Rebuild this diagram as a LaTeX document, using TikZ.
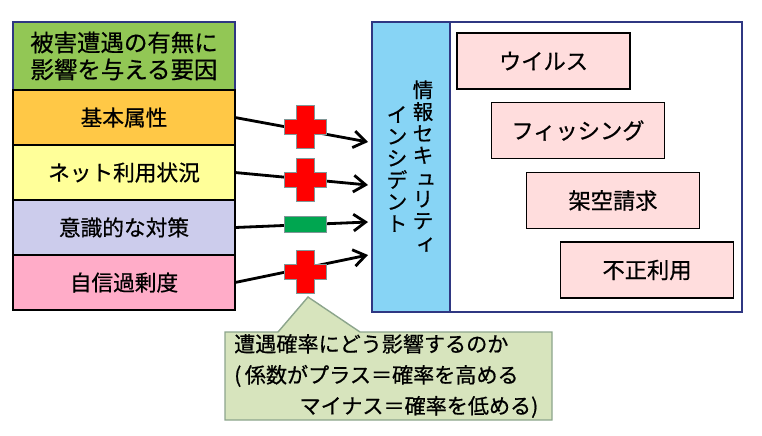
\documentclass[tikz,border=0pt]{standalone}
\usepackage{fontspec}
\setmainfont[FakeBold=0.6]{Noto Sans CJK JP}
\usetikzlibrary{arrows.meta, positioning}
\definecolor{headgreen}{RGB}{146,199,85}
\definecolor{attrorange}{RGB}{255,200,70}
\definecolor{netyellow}{RGB}{255,255,153}
\definecolor{carepurple}{RGB}{204,204,236}
\definecolor{selfpink}{RGB}{255,172,200}
\definecolor{incblue}{RGB}{135,212,245}
\definecolor{navy}{RGB}{47,55,130}
\definecolor{typepink}{RGB}{255,221,221}
\definecolor{notegreen}{RGB}{215,228,189}
\definecolor{noteedge}{RGB}{140,165,140}
\definecolor{markedge}{RGB}{128,150,150}
\definecolor{minusgreen}{RGB}{0,166,80}

\begin{document}
\begin{tikzpicture}[
    x=0.03cm, y=-0.03cm,
    factor/.style  ={draw=black, line width=1.4pt, outer sep=0pt,
                     minimum width=6.66cm, minimum height=1.65cm,
                     font=\fontsize{18.5pt}{22pt}\selectfont},
    header/.style  ={factor, draw=navy, fill=headgreen, minimum height=2.04cm,
                     align=center, font=\fontsize{20pt}{23pt}\selectfont},
    panel/.style   ={draw=navy, line width=1.4pt, outer sep=0pt,
                     minimum height=8.7cm},
    vcol/.style    ={align=center, inner sep=0pt,
                     font=\fontsize{17.5pt}{18.6pt}\selectfont},
    typebox/.style ={draw=black, line width=1.2pt, fill=typepink,
                     minimum width=5.19cm, minimum height=1.68cm,
                     font=\fontsize{19pt}{22pt}\selectfont},
    effect/.style  ={-{Straight Barb[length=3.6mm, width=5mm]}, line width=2.4pt},
    plusmark/.style={fill=red, draw=markedge, line width=0.8pt},
    notebox/.style ={fill=notegreen, draw=noteedge, line width=1.2pt},
    plus/.pic      ={\path[plusmark] (-21,-7.5) -- (-9,-7.5) -- (-9,-21.5) -- (9,-21.5)
                       -- (9,-7.5) -- (21,-7.5) -- (21,7.5) -- (9,7.5) -- (9,21.5)
                       -- (-9,21.5) -- (-9,7.5) -- (-21,7.5) -- cycle;},
    minus/.pic     ={\path[plusmark, fill=minusgreen] (-21,-8) rectangle (21,8);},
  ]
  \useasboundingbox (0,0) rectangle (762,435);

  % ---- factors (left column) ----
  \node[header] (head) at (124,56) {被害遭遇の有無に\\影響を与える要因};
  \node[factor, fill=attrorange, below=0pt of head]  (basic) {基本属性};
  \node[factor, fill=netyellow, below=0pt of basic]  (net)   {ネット利用状況};
  \node[factor, fill=carepurple, below=0pt of net]   (care)  {意識的な対策};
  \node[factor, fill=selfpink, below=0pt of care]    (self)  {自信過剰度};

  % ---- incident panel ----
  \node[panel, fill=incblue, minimum width=2.34cm] (inc) at (411,167) {};
  \node[panel, fill=white, minimum width=8.76cm, right=0pt of inc] (types) {};
  \node[vcol] (vright) at (423,166)
    {情\\報\\セ\\キ\\\hspace*{0.3em}ュ\\リ\\テ\\\hspace*{0.3em}ィ};
  \node[vcol] (vleft)  at (397,169) {イ\\ン\\シ\\デ\\ン\\ト};

  % ---- incident types ----
  \node[typebox] (virus)  at (543.5,61)  {ウイルス};
  \node[typebox] (phish)  at (578,130.5) {フィッシング};
  \node[typebox] (fake)   at (613,200.5) {架空請求};
  \node[typebox] (misuse) at (647,270)   {不正利用};

  % ---- effect arrows ----
  \coordinate (in1) at (368,142);
  \coordinate (in2) at (368,185);
  \coordinate (in3) at (368,222);
  \coordinate (in4) at (368,255);
  \draw[effect] (basic.east) -- (in1);
  \draw[effect] (net.east)   -- (in2);
  \draw[effect] (care.east)  -- (in3);
  \draw[effect] (self.east)  -- (in4);

  % ---- signs of the coefficients ----
  \pic at (305,127) {plus};
  \pic at (305,180) {plus};
  \pic at (305,224) {minus};
  \pic at (305,272) {plus};

  % ---- callout ----
  \draw[notebox] (225,332) -- (278,332) -- (308,297) -- (360,332) -- (552,332)
    -- (552,420) -- (225,420) -- cycle;
  \node[anchor=west, align=left, inner sep=0pt,
        font=\fontsize{18pt}{26.4pt}\selectfont] (note) at (234,376)
    {遭遇確率にどう影響するのか\\(\,係数がプラス＝確率を高める\\\hspace*{3.1em}マイナス＝確率を低める)};

\end{tikzpicture}
\end{document}
